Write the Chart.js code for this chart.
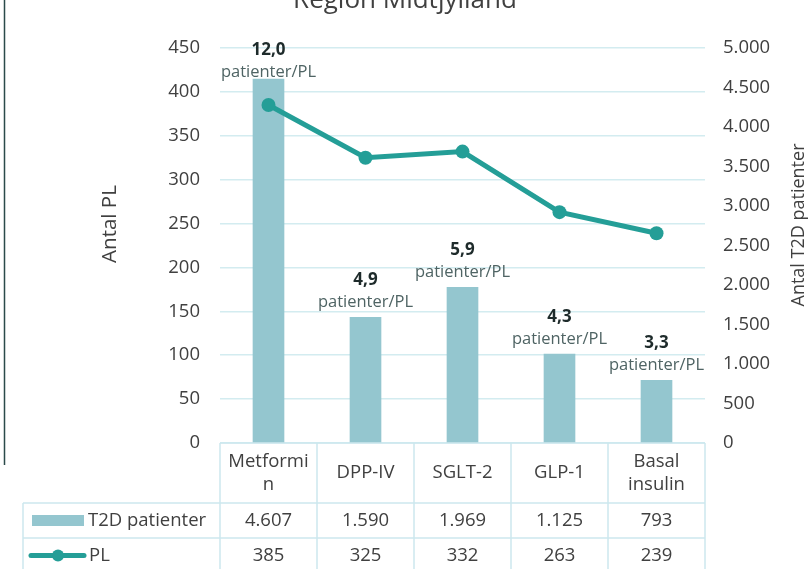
<!DOCTYPE html>
<html>
<head>
<meta charset="utf-8">
<script src="https://cdn.jsdelivr.net/npm/chart.js@4"></script>
<style>
html,body{margin:0;padding:0;background:#fff;}
#wrap{width:810px;height:569px;position:relative;}
</style>
</head>
<body>
<div id="wrap"><canvas id="c" width="810" height="569"></canvas></div>
<script>
const categories = ['Metformin', 'DPP-IV', 'SGLT-2', 'GLP-1', 'Basal insulin'];
const t2dPatienter = [4607, 1590, 1969, 1125, 793];
const pl = [385, 325, 332, 263, 239];
const ratioLabels = ['12,0', '4,9', '5,9', '4,3', '3,3'];
const ratioUnit = 'patienter/PL';
const seriesNames = ['T2D patienter', 'PL'];
const chartTitle = 'Region Midtjylland';
const leftAxisTitle = 'Antal PL';
const rightAxisTitle = 'Antal T2D patienter';

const FONT = '"Open Sans", "Liberation Sans", sans-serif';
const TXT = '#404040';
const BAR = '#94C6CF';
const LINE = '#249E97';
const GRID = '#D3ECF0';

const fmt = n => String(n).replace(/\B(?=(\d{3})+(?!\d))/g, '.');

function wrapText(ctx, text, maxW) {
  const words = text.split(' ');
  const lines = [];
  let cur = '';
  for (const w of words) {
    const test = cur ? cur + ' ' + w : w;
    if (ctx.measureText(test).width <= maxW) { cur = test; continue; }
    if (cur) lines.push(cur);
    if (ctx.measureText(w).width <= maxW) { cur = w; continue; }
    let piece = '';
    for (const ch of w) {
      if (ctx.measureText(piece + ch).width > maxW) { lines.push(piece); piece = ch; }
      else piece += ch;
    }
    cur = piece;
  }
  if (cur) lines.push(cur);
  return lines;
}

const extras = {
  id: 'extras',
  afterDraw(chart) {
    const ctx = chart.ctx;
    const xs = chart.scales.x;
    const area = chart.chartArea;
    const n = categories.length;
    const colW = (area.right - area.left) / n;
    ctx.save();

    // frame line on the left
    ctx.strokeStyle = '#2B4A4A';
    ctx.lineWidth = 1.5;
    ctx.beginPath(); ctx.moveTo(4.5, 0); ctx.lineTo(4.5, 465); ctx.stroke();

    // title (cut off at top)
    ctx.fillStyle = TXT;
    ctx.font = '26px ' + FONT;
    ctx.textAlign = 'center';
    ctx.textBaseline = 'alphabetic';
    ctx.fillText(chartTitle, 405, 8);

    // axis titles
    ctx.textBaseline = 'middle';
    ctx.font = '20.5px ' + FONT;
    ctx.save(); ctx.translate(110, 224); ctx.rotate(-Math.PI / 2); ctx.fillText(leftAxisTitle, 0, 0); ctx.restore();
    ctx.font = '18px ' + FONT;
    ctx.save(); ctx.translate(799, 225); ctx.rotate(-Math.PI / 2); ctx.fillText(rightAxisTitle, 0, 0); ctx.restore();

    // ratio annotations above bars
    const barMeta = chart.getDatasetMeta(0);
    for (let i = 0; i < n; i++) {
      const b = barMeta.data[i];
      let yNum = Math.max(b.y - 37, area.top + 2);
      ctx.textAlign = 'center';
      ctx.font = 'bold 17px ' + FONT;
      ctx.fillStyle = '#1E2B2B';
      ctx.fillText(ratioLabels[i], b.x, yNum);
      ctx.font = '16.5px ' + FONT;
      ctx.fillStyle = '#4F6464';
      ctx.fillText(ratioUnit, b.x, yNum + 22);
    }

    // data table
    const top = area.bottom;
    const row1 = top + 60;
    const row2 = row1 + 35;
    const row3 = row2 + 35;
    const legLeft = 23;
    ctx.strokeStyle = '#CDE8EE';
    ctx.lineWidth = 1.5;
    ctx.beginPath();
    ctx.moveTo(area.left, top); ctx.lineTo(area.right, top);
    ctx.moveTo(legLeft, row1); ctx.lineTo(area.right, row1);
    ctx.moveTo(legLeft, row2); ctx.lineTo(area.right, row2);
    ctx.moveTo(legLeft, row3); ctx.lineTo(area.right, row3);
    ctx.moveTo(legLeft, row1); ctx.lineTo(legLeft, 569);
    for (let i = 0; i <= n; i++) {
      const x = area.left + i * colW;
      ctx.moveTo(x, top); ctx.lineTo(x, 569);
    }
    ctx.stroke();

    ctx.fillStyle = TXT;
    ctx.font = '18.5px ' + FONT;
    ctx.textAlign = 'center';
    ctx.textBaseline = 'middle';
    for (let i = 0; i < n; i++) {
      const cx = xs.getPixelForValue(i);
      const lines = wrapText(ctx, categories[i], colW - 14);
      const lh = 23;
      const mid = (top + row1) / 2;
      lines.forEach((ln, k) => {
        ctx.fillText(ln, cx, mid + (k - (lines.length - 1) / 2) * lh);
      });
      ctx.fillText(fmt(t2dPatienter[i]), cx, (row1 + row2) / 2);
      ctx.fillText(fmt(pl[i]), cx, (row2 + row3) / 2);
    }

    // legend keys
    const r1 = (row1 + row2) / 2, r2 = (row2 + row3) / 2;
    ctx.fillStyle = BAR;
    ctx.fillRect(32, r1 - 5.5, 52, 11);
    ctx.strokeStyle = LINE;
    ctx.lineWidth = 5;
    ctx.lineCap = 'round';
    ctx.beginPath(); ctx.moveTo(31, r2); ctx.lineTo(84, r2); ctx.stroke();
    ctx.fillStyle = LINE;
    ctx.beginPath(); ctx.arc(58, r2, 6, 0, Math.PI * 2); ctx.fill();
    ctx.fillStyle = TXT;
    ctx.textAlign = 'left';
    ctx.fillText(seriesNames[0], 88, r1);
    ctx.fillText(seriesNames[1], 89, r2);

    ctx.restore();
  }
};

new Chart(document.getElementById('c'), {
  data: {
    labels: categories,
    datasets: [
      {
        type: 'bar', label: seriesNames[0], data: t2dPatienter, yAxisID: 'y1',
        backgroundColor: BAR, barThickness: 31, order: 2
      },
      {
        type: 'line', label: seriesNames[1], data: pl, yAxisID: 'y',
        borderColor: LINE, backgroundColor: LINE, borderWidth: 5,
        pointRadius: 7, pointHoverRadius: 7, pointBorderWidth: 0,
        pointBackgroundColor: LINE, tension: 0, order: 1
      }
    ]
  },
  options: {
    responsive: false,
    animation: false,
    layout: { padding: { top: 48, bottom: 126, left: 0, right: 0 } },
    plugins: { legend: { display: false }, tooltip: { enabled: false }, title: { display: false } },
    scales: {
      x: { type: 'category', display: false, offset: true },
      y: {
        position: 'left', min: 0, max: 450,
        afterFit(s) { s.width = 220; },
        ticks: { stepSize: 50, padding: 20, color: TXT, font: { family: FONT, size: 18.5 } },
        grid: { color: GRID, lineWidth: 1.5, drawTicks: false },
        border: { display: false }
      },
      y1: {
        position: 'right', min: 0, max: 5000,
        afterFit(s) { s.width = 105; },
        ticks: { stepSize: 500, padding: 18, color: TXT, font: { family: FONT, size: 18.5 }, callback: v => fmt(v) },
        grid: { display: false, drawTicks: false },
        border: { display: false }
      }
    }
  },
  plugins: [extras]
});
</script>
</body>
</html>
